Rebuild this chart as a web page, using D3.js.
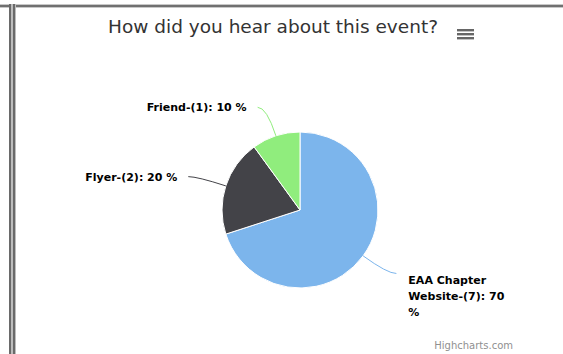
<!DOCTYPE html>
<html>
<head>
<meta charset="utf-8">
<script src="https://cdn.jsdelivr.net/npm/d3@7"></script>
<style>
  body { margin: 0; background: #fff; }
  svg { display: block; font-family: "DejaVu Sans", sans-serif; }
</style>
</head>
<body>
<div id="chart"></div>
<script>
// chart data
const titleText = "How did you hear about this event?";
const categories = ["EAA Chapter Website", "Flyer", "Friend"];
const counts = [7, 2, 1];
const percents = [70, 20, 10];
const colors = ["#7cb5ec", "#434348", "#90ed7d"];
const creditText = "Highcharts.com";

const width = 563;
const height = 354;

const svg = d3.select("#chart")
  .append("svg")
  .attr("width", width)
  .attr("height", height);

// frame lines from the page around the chart
svg.append("rect").attr("x", 0).attr("y", 4).attr("width", width).attr("height", 4).attr("fill", "#c8c8c8");
svg.append("rect").attr("x", 0).attr("y", 5).attr("width", width).attr("height", 2).attr("fill", "#707070");
svg.append("rect").attr("x", 9).attr("y", 4).attr("width", 7).attr("height", height).attr("fill", "#bdbdbd");
svg.append("rect").attr("x", 9).attr("y", 4).attr("width", 2).attr("height", height).attr("fill", "#6a6a6a");
svg.append("rect").attr("x", 13).attr("y", 4).attr("width", 2).attr("height", height).attr("fill", "#6a6a6a");

// title
svg.append("text")
  .attr("x", 273)
  .attr("y", 33)
  .attr("text-anchor", "middle")
  .attr("font-size", "18.5px")
  .attr("fill", "#333")
  .text(titleText);

// context menu icon
const menu = svg.append("g").attr("transform", "translate(457,29)");
[0, 4, 8].forEach(dy => {
  menu.append("rect")
    .attr("x", 0).attr("y", dy)
    .attr("width", 17).attr("height", 2.4)
    .attr("fill", "#666");
});

// pie
const cx = 300, cy = 210, r = 78;
const data = categories.map((c, i) => ({
  name: c, count: counts[i], pct: percents[i], color: colors[i]
}));

const pie = d3.pie().sort(null).value(d => d.pct);
const arc = d3.arc().innerRadius(0).outerRadius(r);
const arcs = pie(data);

const g = svg.append("g").attr("transform", `translate(${cx},${cy})`);

g.selectAll("path.slice")
  .data(arcs)
  .enter()
  .append("path")
  .attr("class", "slice")
  .attr("d", arc)
  .attr("fill", d => d.data.color)
  .attr("stroke", "#fff")
  .attr("stroke-width", 1);

// data labels with connectors
const labelDist = 30;
arcs.forEach(a => {
  const mid = (a.startAngle + a.endAngle) / 2;
  const sx = Math.sin(mid), sy = -Math.cos(mid);
  const ex = sx * r, ey = sy * r;
  const ox = sx * (r + labelDist), oy = sy * (r + labelDist);
  const right = sx > 0;
  const dir = right ? 1 : -1;

  const startX = ox + dir * 9;
  g.append("path")
    .attr("d", `M${startX},${oy} Q${ox},${oy} ${ex},${ey}`)
    .attr("fill", "none")
    .attr("stroke", a.data.color)
    .attr("stroke-width", 1);

  const label = `${a.data.name}-(${a.data.count}): ${a.data.pct} %`;
  const t = g.append("text")
    .attr("text-anchor", right ? "start" : "end")
    .attr("font-size", "11px")
    .attr("font-weight", "bold")
    .attr("fill", "#000");

  if (right) {
    // wrapped the way the reference wraps it
    const lines = ["EAA Chapter", "Website-(" + a.data.count + "): " + a.data.pct, "%"];
    lines.forEach((ln, i) => {
      t.append("tspan")
        .attr("x", ox + 21)
        .attr("y", oy + 11 + i * 16)
        .text(ln);
    });
  } else {
    t.attr("x", ox - 20).attr("y", oy + 4).text(label);
  }
});

// credits
svg.append("text")
  .attr("x", 513)
  .attr("y", 349)
  .attr("text-anchor", "end")
  .attr("font-size", "10px")
  .attr("fill", "#909090")
  .text(creditText);
</script>
</body>
</html>
